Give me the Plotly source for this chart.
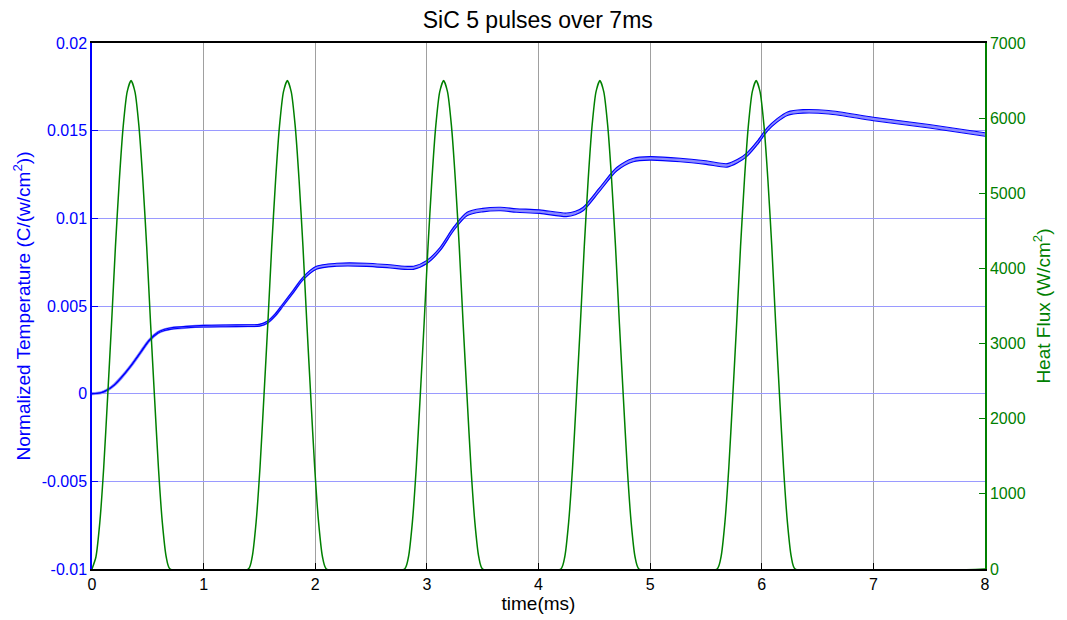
import plotly.graph_objects as go

# Normalized temperature response (C/(w/cm^2)) vs time (ms)
time_ms = [0.0, 0.08, 0.14, 0.2, 0.26, 0.35, 0.44, 0.51, 0.59, 0.65, 0.71, 0.85, 1.0, 1.2, 1.4, 1.5,
           1.57, 1.64, 1.71, 1.8, 1.89, 2.01, 2.19, 2.46, 2.67, 2.88, 3.0, 3.12, 3.24, 3.36,
           3.5, 3.66, 3.8, 4.01, 4.25, 4.33, 4.4, 4.55, 4.7, 4.85, 5.0, 5.27, 5.5, 5.69,
           5.78, 5.87, 5.96, 6.05, 6.14, 6.23, 6.37, 6.6, 7.0, 7.5, 8.0]
temperature = [0.0, 0.00005, 0.00022, 0.0005, 0.0009, 0.0016, 0.0024, 0.00302, 0.00348, 0.00364,
               0.00372, 0.0038, 0.00385, 0.00387, 0.00388, 0.0039, 0.00407, 0.00448, 0.00505, 0.0058,
               0.00656, 0.00718, 0.00735, 0.00735, 0.00726, 0.00718, 0.00751, 0.00826, 0.0094,
               0.01025, 0.01047, 0.01053, 0.01045, 0.01038, 0.0102, 0.0103, 0.01053, 0.01166,
               0.0128, 0.01333, 0.01342, 0.01333, 0.01318, 0.01302, 0.01325, 0.01365, 0.0143,
               0.01507, 0.0156, 0.01597, 0.0161, 0.01605, 0.01567, 0.01525, 0.01478]
# spread between the thermocouple traces that make up the band
band_spread = [0.0, 0.0, 0.0, 0.00001, 0.00002, 0.00003, 0.00004, 0.00005, 0.00006, 0.00007, 0.00008,
               0.00008, 0.00009, 0.0001, 0.0001, 0.0001, 0.00011, 0.00012, 0.00013, 0.00014, 0.00015,
               0.00016, 0.00017, 0.00018, 0.00018, 0.00018, 0.00018, 0.00018, 0.00019, 0.0002,
               0.0002, 0.0002, 0.0002, 0.0002, 0.0002, 0.0002, 0.0002, 0.0002, 0.0002,
               0.0002, 0.0002, 0.0002, 0.0002, 0.0002, 0.0002, 0.0002, 0.0002, 0.0002,
               0.0002, 0.0002, 0.0002, 0.0002, 0.0002, 0.0002, 0.0002]

# Heat flux pulse: one pulse sampled every 0.035 ms over 0.7 ms (W/cm^2)
pulse_dt = 0.035
pulse_profile = [0, 160, 620, 1350, 2290, 3260, 4290, 5180, 5900, 6350, 6500,
                 6350, 5900, 5180, 4290, 3260, 2290, 1350, 620, 160, 0]
pulse_starts = [0.0, 1.4, 2.8, 4.2, 5.6]
t_end = 8.0

flux_t, flux_q = [], []
for s in pulse_starts:
    for i, q in enumerate(pulse_profile):
        flux_t.append(round(s + i * pulse_dt, 4))
        flux_q.append(q)
flux_t.append(t_end)
flux_q.append(0)

upper = [t + d / 2 for t, d in zip(temperature, band_spread)]
lower = [t - d / 2 for t, d in zip(temperature, band_spread)]

BLUE = "#0000ff"
GREEN = "#008000"
FONT = "Liberation Sans, Arial, sans-serif"

fig = go.Figure()
fig.add_trace(go.Scatter(x=time_ms, y=temperature, mode="lines",
                         line=dict(color="#8c8cff", width=3.2, shape="spline", smoothing=0.8),
                         showlegend=False, hoverinfo="skip"))
fig.add_trace(go.Scatter(x=time_ms, y=upper, mode="lines",
                         line=dict(color=BLUE, width=1.1, shape="spline", smoothing=0.8),
                         showlegend=False))
fig.add_trace(go.Scatter(x=time_ms, y=lower, mode="lines",
                         line=dict(color=BLUE, width=1.1, shape="spline", smoothing=0.8),
                         showlegend=False))
fig.add_trace(go.Scatter(x=flux_t, y=flux_q, yaxis="y2", mode="lines",
                         line=dict(color=GREEN, width=1.5, shape="spline", smoothing=0.6),
                         showlegend=False))

fig.update_layout(
    width=1067, height=620,
    margin=dict(l=92, r=82, t=43, b=48),
    paper_bgcolor="white", plot_bgcolor="white",
    font=dict(family=FONT, size=16, color="black"),
    title=dict(text="SiC 5 pulses over 7ms", x=0.504, xanchor="center", y=0.968, yanchor="middle",
               font=dict(size=23, color="black", family=FONT)),
    xaxis=dict(range=[0, 8], dtick=1, tick0=0, showgrid=True, gridcolor="#a0a0a0", gridwidth=1,
               zeroline=False, showline=True, linecolor="black", linewidth=1.5, mirror=True,
               ticks="inside", ticklen=6, tickcolor="black",
               tickfont=dict(size=16, color="black"),
               title=dict(text="time(ms)", font=dict(size=19, color="black"), standoff=2)),
    yaxis=dict(range=[-0.01, 0.02], dtick=0.005, tick0=-0.01, showgrid=True, gridcolor="#9a9aff",
               gridwidth=1, zeroline=False, showline=True, linecolor=BLUE, linewidth=1.5,
               ticks="inside", ticklen=6, tickcolor=BLUE,
               tickvals=[-0.01, -0.005, 0, 0.005, 0.01, 0.015, 0.02],
               ticktext=["-0.01", "-0.005", "0", "0.005", "0.01", "0.015", "0.02"],
               tickfont=dict(size=16, color=BLUE),
               title=dict(text="Normalized Temperature (C/(w/cm<sup>2</sup>))",
                          font=dict(size=19, color=BLUE), standoff=6)),
    yaxis2=dict(range=[0, 7000], dtick=1000, overlaying="y", side="right", showgrid=False,
                zeroline=False, showline=True, linecolor=GREEN, linewidth=1.5,
                ticks="inside", ticklen=6, tickcolor=GREEN,
                tickfont=dict(size=16, color=GREEN),
                title=dict(text="Heat Flux (W/cm<sup>2</sup>)", font=dict(size=19, color=GREEN), standoff=12)),
)

fig.write_html("out.html")
